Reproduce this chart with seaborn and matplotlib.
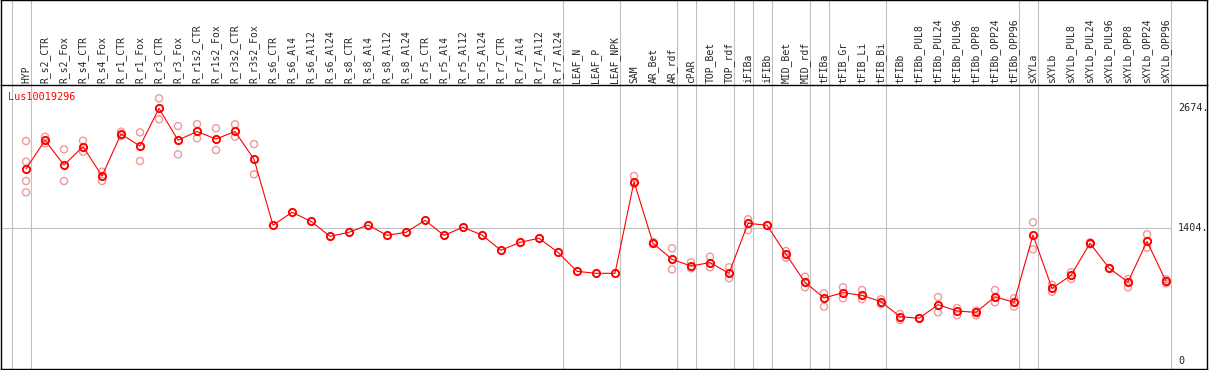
import numpy as np
import pandas as pd
import matplotlib
matplotlib.use("Agg")
import matplotlib.pyplot as plt
import seaborn as sns

gene = "Lus10019296"

samples = ["HYP", "R_s2_CTR", "R_s2_Fox", "R_s4_CTR", "R_s4_Fox", "R_r1_CTR", "R_r1_Fox",
           "R_r3_CTR", "R_r3_Fox", "R_r1s2_CTR", "R_r1s2_Fox", "R_r3s2_CTR", "R_r3s2_Fox",
           "R_s6_CTR", "R_s6_Al4", "R_s6_Al12", "R_s6_Al24", "R_s8_CTR", "R_s8_Al4",
           "R_s8_Al12", "R_s8_Al24", "R_r5_CTR", "R_r5_Al4", "R_r5_Al12", "R_r5_Al24",
           "R_r7_CTR", "R_r7_Al4", "R_r7_Al12", "R_r7_Al24", "LEAF_N", "LEAF_P", "LEAF_NPK",
           "SAM", "AR_Bet", "AR_rdf", "cPAR", "TOP_Bet", "TOP_rdf", "iFIBa", "iFIBb",
           "MID_Bet", "MID_rdf", "tFIBa", "tFIB_Gr", "tFIB_Li", "tFIB_Bi", "tFIBb",
           "tFIBb_PUL8", "tFIBb_PUL24", "tFIBb_PUL96", "tFIBb_OPP8", "tFIBb_OPP24",
           "tFIBb_OPP96", "sXYLa", "sXYLb", "sXYLb_PUL8", "sXYLb_PUL24", "sXYLb_PUL96",
           "sXYLb_OPP8", "sXYLb_OPP24", "sXYLb_OPP96"]

means = [2032, 2336, 2074, 2270, 1958, 2402, 2275, 2674, 2337, 2429, 2349, 2429, 2136,
         1437, 1574, 1478, 1320, 1362, 1439, 1330, 1362, 1489, 1330, 1415, 1333,
         1172, 1256, 1299, 1150, 949, 928, 928,
         1898, 1246, 1076, 1005, 1042, 928, 1457, 1437, 1130, 833,
         667, 723, 695, 628, 469, 452, 596, 529, 515, 680, 621,
         1333, 769, 907, 1246, 984, 836, 1267, 843]

# individual replicates (empty where only one sample)
replicates = [[2328, 2109, 1905, 1785], [2374, 2304], [2240, 1905], [2331, 2215], [2003, 1905],
              [2427, 2381], [2420, 2117], [2780, 2558], [2487, 2187], [2508, 2357],
              [2463, 2233], [2505, 2374], [2296, 1976],
              [], [], [], [], [], [], [], [], [], [], [], [], [], [], [], [], [], [], [],
              [1958, 1873], [1238, 1259], [1193, 970], [1045, 981], [1104, 992], [992, 875],
              [1500, 1386], [1437, 1437], [1164, 1093], [892, 780],
              [716, 575], [780, 664], [751, 656], [653, 603], [497, 434], [452, 452],
              [677, 515], [561, 484], [532, 484], [751, 621], [664, 575],
              [1468, 1182], [807, 733], [939, 868], [1256, 1235], [984, 984], [868, 780],
              [1341, 1199], [865, 822]]

# group separators sit just right of these sample positions
group_ends = [-1, 0, 28, 31, 34, 35, 37, 38, 39, 41, 42, 45, 52, 53, 60]

y_ticks = [0, 1404, 2674]
y_tick_labels = ["0", "1404.", "2674."]

sns.set_style("white")
plt.rcParams["font.family"] = ["DejaVu Sans Mono", "DejaVu Sans"]

pos = np.arange(len(samples))
mean_df = pd.DataFrame({"pos": pos, "value": means})
rep_df = pd.DataFrame([(i, v) for i, vals in enumerate(replicates) for v in vals],
                      columns=["pos", "value"])

W, H = 1209, 370
fig = plt.figure(figsize=(W / 100, H / 100), dpi=100)
# header strip and plot area, both spanning the same x range
ax_head = fig.add_axes([1 / W, (H - 85) / H, 1206 / W, 85 / H])
ax = fig.add_axes([1 / W, (H - 369) / H, 1206 / W, 284 / H])

xmin = -25 / 19
xmax = xmin + 1206 / 19
ymax = 2921
ymin = ymax - 284 / 0.09449

grid_col = "#c0c0c0"
for a in (ax_head, ax):
    a.set_xlim(xmin, xmax)
    a.set_xticks([])
    a.set_yticks([])
    for s in a.spines.values():
        s.set_color("black")
        s.set_linewidth(1.0)
    for g in group_ends:
        a.axvline(g + 0.25, color=grid_col, lw=0.8, zorder=0)

ax_head.set_ylim(0, 1)
ax_head.spines["bottom"].set_visible(False)
for i, name in enumerate(samples):
    ax_head.text(i, 0.02, name, rotation=90, ha="center", va="bottom", fontsize=7)

ax.set_ylim(ymin, ymax)
ax.hlines(1404, xmin, group_ends[-1] + 0.25, color=grid_col, lw=0.8, zorder=0)

sns.scatterplot(data=rep_df, x="pos", y="value", ax=ax, marker="o", s=26,
                color="#f09898", facecolor="none", edgecolor="#f09898", linewidth=1.0,
                zorder=2, legend=False)
sns.lineplot(data=mean_df, x="pos", y="value", ax=ax, color="red", lw=0.8,
             marker="o", markersize=5.2, markerfacecolor="none", markeredgecolor="red",
             markeredgewidth=1.4, zorder=3)
ax.set_xlabel("")
ax.set_ylabel("")

ax.text(7 / 1206, 1 - 12 / 284, gene, transform=ax.transAxes, color="red",
        fontsize=7.3, ha="left", va="center")
for t, lab in zip(y_ticks, y_tick_labels):
    ax.text(60.63, t, lab, ha="left", va="center", fontsize=7.3)

fig.savefig("out.png", dpi=100)
